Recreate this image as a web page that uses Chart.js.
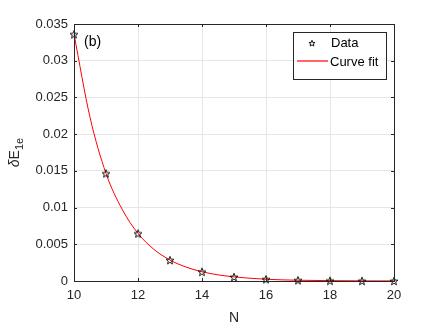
<!DOCTYPE html>
<html>
<head>
<meta charset="utf-8">
<script src="https://cdn.jsdelivr.net/npm/chart.js@4"></script>
<style>
body { margin: 0; background: #fff; }
#wrap { width: 436px; height: 327px; }
</style>
</head>
<body>
<div id="wrap"><canvas id="chart"></canvas></div>
<script>
// values
const nValues = [10, 11, 12, 13, 14, 15, 16, 17, 18, 19, 20];
const deltaE = [0.0336, 0.01465, 0.00647, 0.00285, 0.00126, 0.00056, 0.00024, 0.000105, 0.000046, 0.00002, 0.000009];
// fitted curve, read at half steps
const fitN = [10, 10.5, 11, 11.5, 12, 12.5, 13, 13.5, 14, 14.5, 15, 16, 17, 18, 19, 20];
const fitValues = [0.0336, 0.0223, 0.01465, 0.0098, 0.00647, 0.0043, 0.00285, 0.0019, 0.00126, 0.00084, 0.00056, 0.00024, 0.000105, 0.000046, 0.00002, 0.000009];
const xTicks = [10, 12, 14, 16, 18, 20];
const yTicks = [0, 0.005, 0.01, 0.015, 0.02, 0.025, 0.03, 0.035];

const axisColor = "#262626";
const fontFamily = "'Liberation Sans', Arial, sans-serif";

// five point star outline, like matlab's 'p' marker
function starMarker(size, color) {
    const c = document.createElement("canvas");
    c.width = c.height = size;
    const g = c.getContext("2d");
    const r = size / 2 - 0.8, ri = r * 0.42;
    g.beginPath();
    for (let i = 0; i < 10; i++) {
        const a = -Math.PI / 2 + i * Math.PI / 5;
        const rr = i % 2 ? ri : r;
        g.lineTo(size / 2 + rr * Math.cos(a), size / 2 + 0.5 + rr * Math.sin(a));
    }
    g.closePath();
    g.strokeStyle = color;
    g.lineWidth = 0.9;
    g.stroke();
    return c;
}
const star = starMarker(10, "#000");
const legendStar = starMarker(8, "#000");

const framePlugin = {
    id: "frame",
    afterDraw(chart) {
        const ctx = chart.ctx;
        const a = chart.chartArea;
        const xs = chart.scales.x, ys = chart.scales.y;
        ctx.save();

        // inward ticks on all four sides
        ctx.strokeStyle = axisColor;
        ctx.lineWidth = 1;
        ctx.beginPath();
        xTicks.forEach(v => {
            const px = Math.round(xs.getPixelForValue(v)) + 0.5;
            ctx.moveTo(px, a.bottom); ctx.lineTo(px, a.bottom - 3);
            ctx.moveTo(px, a.top); ctx.lineTo(px, a.top + 3);
        });
        yTicks.forEach(v => {
            const py = Math.round(ys.getPixelForValue(v)) + 0.5;
            ctx.moveTo(a.left, py); ctx.lineTo(a.left + 3, py);
            ctx.moveTo(a.right, py); ctx.lineTo(a.right - 3, py);
        });
        ctx.stroke();

        // box
        ctx.strokeRect(Math.round(a.left) + 0.5, Math.round(a.top) + 0.5,
            Math.round(a.right - a.left), Math.round(a.bottom - a.top));

        // panel tag
        ctx.fillStyle = "#000";
        ctx.font = "14px " + fontFamily;
        ctx.textBaseline = "middle";
        ctx.textAlign = "left";
        ctx.fillText("(b)", a.left + 10, a.top + 18);

        // legend
        const lx = 293, ly = 32, lw = 93, lh = 47;
        ctx.fillStyle = "#fff";
        ctx.fillRect(lx, ly, lw, lh);
        ctx.strokeStyle = axisColor;
        ctx.strokeRect(lx + 0.5, ly + 0.5, lw, lh);
        ctx.drawImage(legendStar, 308, 39);
        ctx.beginPath();
        ctx.strokeStyle = "#ff0000";
        ctx.lineWidth = 1.2;
        ctx.moveTo(297, 61); ctx.lineTo(328, 61);
        ctx.stroke();
        ctx.fillStyle = "#000";
        ctx.font = "13px " + fontFamily;
        ctx.fillText("Data", 331, 43);
        ctx.fillText("Curve fit", 330, 62);

        // y label with subscript
        ctx.translate(15, (a.top + a.bottom) / 2);
        ctx.rotate(-Math.PI / 2);
        ctx.fillStyle = axisColor;
        ctx.textAlign = "left";
        const w1 = (ctx.font = "italic 14px " + fontFamily, ctx.measureText("\u03b4").width);
        const w2 = (ctx.font = "14px " + fontFamily, ctx.measureText("E").width);
        const w3 = (ctx.font = "11px " + fontFamily, ctx.measureText("1e").width);
        let x0 = -(w1 + w2 + w3) / 2;
        ctx.font = "italic 14px " + fontFamily;
        ctx.fillText("\u03b4", x0, 0);
        ctx.font = "14px " + fontFamily;
        ctx.fillText("E", x0 + w1, 0);
        ctx.font = "11px " + fontFamily;
        ctx.fillText("1e", x0 + w1 + w2, 5);
        ctx.restore();
    }
};

const ctx = document.getElementById("chart").getContext("2d");
const chart = new Chart(ctx, {
    type: "line",
    data: {
        datasets: [
            {
                label: "Data",
                data: nValues.map((n, i) => ({ x: n, y: deltaE[i] })),
                showLine: false,
                pointStyle: star,
                pointRadius: 5,
                order: 0
            },
            {
                label: "Curve fit",
                data: fitN.map((n, i) => ({ x: n, y: fitValues[i] })),
                borderColor: "#ff0000",
                borderWidth: 1,
                pointRadius: 0,
                cubicInterpolationMode: "monotone",
                order: 1
            }
        ]
    },
    options: {
        responsive: true,
        maintainAspectRatio: false,
        animation: false,
        clip: false,
        layout: { padding: { left: 0, top: 24, right: 42, bottom: 0 } },
        plugins: {
            legend: { display: false },
            tooltip: { enabled: false }
        },
        scales: {
            x: {
                type: "linear",
                min: 10,
                max: 20,
                afterBuildTicks: s => { s.ticks = xTicks.map(v => ({ value: v })); },
                afterFit: s => { s.height = 46; },
                grid: { color: "#e6e6e6", drawTicks: false },
                border: { display: false },
                ticks: {
                    color: axisColor,
                    padding: 7,
                    maxRotation: 0,
                    font: { family: fontFamily, size: 13 }
                },
                title: {
                    display: true,
                    text: "N",
                    color: axisColor,
                    padding: { top: 2, bottom: 0 },
                    font: { family: fontFamily, size: 14 }
                }
            },
            y: {
                min: 0,
                max: 0.035,
                afterBuildTicks: s => { s.ticks = yTicks.map(v => ({ value: v })); },
                afterFit: s => { s.width = 74; },
                grid: { color: "#e6e6e6", drawTicks: false },
                border: { display: false },
                ticks: {
                    color: axisColor,
                    padding: 6,
                    font: { family: fontFamily, size: 13 },
                    callback: v => String(+v.toFixed(3))
                }
            }
        }
    },
    plugins: [framePlugin]
});
</script>
</body>
</html>
